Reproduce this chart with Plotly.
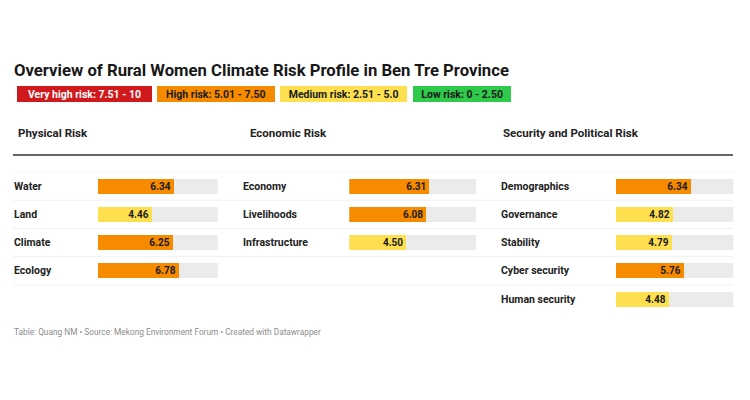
import plotly.graph_objects as go

# -----------------------------
# Data
# -----------------------------
physical_labels = ["Water", "Land", "Climate", "Ecology"]
physical_values = [6.34, 4.46, 6.25, 6.78]

economic_labels = ["Economy", "Livelihoods", "Infrastructure"]
economic_values = [6.31, 6.08, 4.50]

security_labels = ["Demographics", "Governance", "Stability", "Cyber security", "Human security"]
security_values = [6.34, 4.82, 4.79, 5.76, 4.48]

group_titles = ["Physical Risk", "Economic Risk", "Security and Political Risk"]
legend_texts = ["Very high risk: 7.51 - 10", "High risk: 5.01 - 7.50",
                "Medium risk: 2.51 - 5.0", "Low risk: 0 - 2.50"]

# -----------------------------
# Style
# -----------------------------
W, H = 750, 400
OFF = 8  # page body margin
FONT = "Roboto"
RED, ORANGE, YELLOW, GREEN = "#d0191c", "#f68b00", "#fddf4f", "#2fc94c"
GREY = "#ebebeb"


def px_x(p):
    return (p - OFF) / W


def px_y(p):
    return 1 - (p - OFF) / H


def risk_color(v):
    if v > 7.5:
        return RED
    if v > 5.0:
        return ORANGE
    if v > 2.5:
        return YELLOW
    return GREEN


columns = [
    (physical_labels, physical_values, "x", 11.5, 97.7, 217.7, 15.5),
    (economic_labels, economic_values, "x2", 241, 349.3, 476.0, 247.5),
    (security_labels, security_values, "x3", 499, 615.7, 733.3, 501),
]

fig = go.Figure()
annotations = []
layout_axes = {}

for i, (labels, values, xa, lab_x, bar_x0, bar_x1, head_x) in enumerate(columns):
    rows = list(range(len(values)))
    fig.add_trace(go.Bar(
        x=[10] * len(values), y=rows, orientation="h", xaxis=xa, yaxis="y",
        marker=dict(color=GREY, line=dict(width=0)), width=0.53,
        hoverinfo="skip", showlegend=False,
    ))
    fig.add_trace(go.Bar(
        x=values, y=rows, orientation="h", xaxis=xa, yaxis="y",
        marker=dict(color=[risk_color(v) for v in values], line=dict(width=0)),
        width=0.53, texttemplate="<b>%{x:.2f}</b>", textposition="inside",
        insidetextanchor="end", textangle=0,
        textfont=dict(family=FONT, size=10, color="#1a1a1a"),
        showlegend=False,
    ))
    key = "xaxis" if xa == "x" else "xaxis" + xa[1:]
    layout_axes[key] = dict(domain=[px_x(bar_x0), px_x(bar_x1)], range=[0, 10],
                            visible=False, fixedrange=True, anchor="y")
    for r, lab in zip(rows, labels):
        annotations.append(dict(
            x=px_x(lab_x), xref="paper", y=r, yref="y", text="<b>%s</b>" % lab,
            showarrow=False, xanchor="left", yanchor="middle",
            font=dict(family=FONT, size=10.5, color="#222"),
        ))
    annotations.append(dict(
        x=px_x(head_x), xref="paper", y=px_y(133), yref="paper",
        text="<b>%s</b>" % group_titles[i], showarrow=False,
        xanchor="left", yanchor="middle",
        font=dict(family=FONT, size=11.5, color="#222"),
    ))

# title
annotations.append(dict(
    x=px_x(12), xref="paper", y=px_y(70), yref="paper",
    text="<b>Overview of Rural Women Climate Risk Profile in Ben Tre Province</b>",
    showarrow=False, xanchor="left", yanchor="middle",
    font=dict(family=FONT, size=16.7, color="#181818"),
))

# legend boxes
legend_boxes = [(16.7, 151.7, RED, "white"), (157.3, 275.0, ORANGE, "#1a1a1a"),
                (280.0, 407.3, YELLOW, "#1a1a1a"), (412.7, 511.0, GREEN, "#1a1a1a")]
for (x0, x1, col, tcol), txt in zip(legend_boxes, legend_texts):
    annotations.append(dict(
        x=px_x((x0 + x1) / 2), xref="paper", y=px_y(94), yref="paper",
        text="<b>%s</b>" % txt, showarrow=False, xanchor="center", yanchor="middle",
        width=x1 - x0 - 2, height=14, borderpad=0, bgcolor=col,
        bordercolor=col, borderwidth=1,
        font=dict(family=FONT, size=10.5, color=tcol),
    ))

# footer
annotations.append(dict(
    x=px_x(12), xref="paper", y=px_y(332), yref="paper",
    text="Table: Quang NM • Source: Mekong Environment Forum • Created with Datawrapper",
    showarrow=False, xanchor="left", yanchor="middle",
    font=dict(family=FONT, size=8.3, color="#8c8c8c"),
))

shapes = [dict(type="line", xref="paper", yref="paper", x0=px_x(13), x1=px_x(733),
               y0=px_y(155), y1=px_y(155), line=dict(color="#333", width=1.5))]
for b in [-0.5, 0.5, 1.5, 2.5, 3.5]:
    shapes.append(dict(type="line", xref="paper", yref="y", x0=px_x(13), x1=px_x(733),
                       y0=b, y1=b, line=dict(color="#f0f0f0", width=1), layer="below"))

fig.update_layout(
    width=W, height=H, margin=dict(l=0, r=0, t=0, b=0),
    paper_bgcolor="white", plot_bgcolor="rgba(0,0,0,0)",
    barmode="overlay", bargap=0,
    yaxis=dict(domain=[px_y(313.2), px_y(172)], range=[4.5, -0.5],
               visible=False, fixedrange=True, anchor="x"),
    annotations=annotations, shapes=shapes,
    font=dict(family=FONT), uniformtext=dict(minsize=9, mode="show"),
    **layout_axes,
)

fig.write_html("out.html")
